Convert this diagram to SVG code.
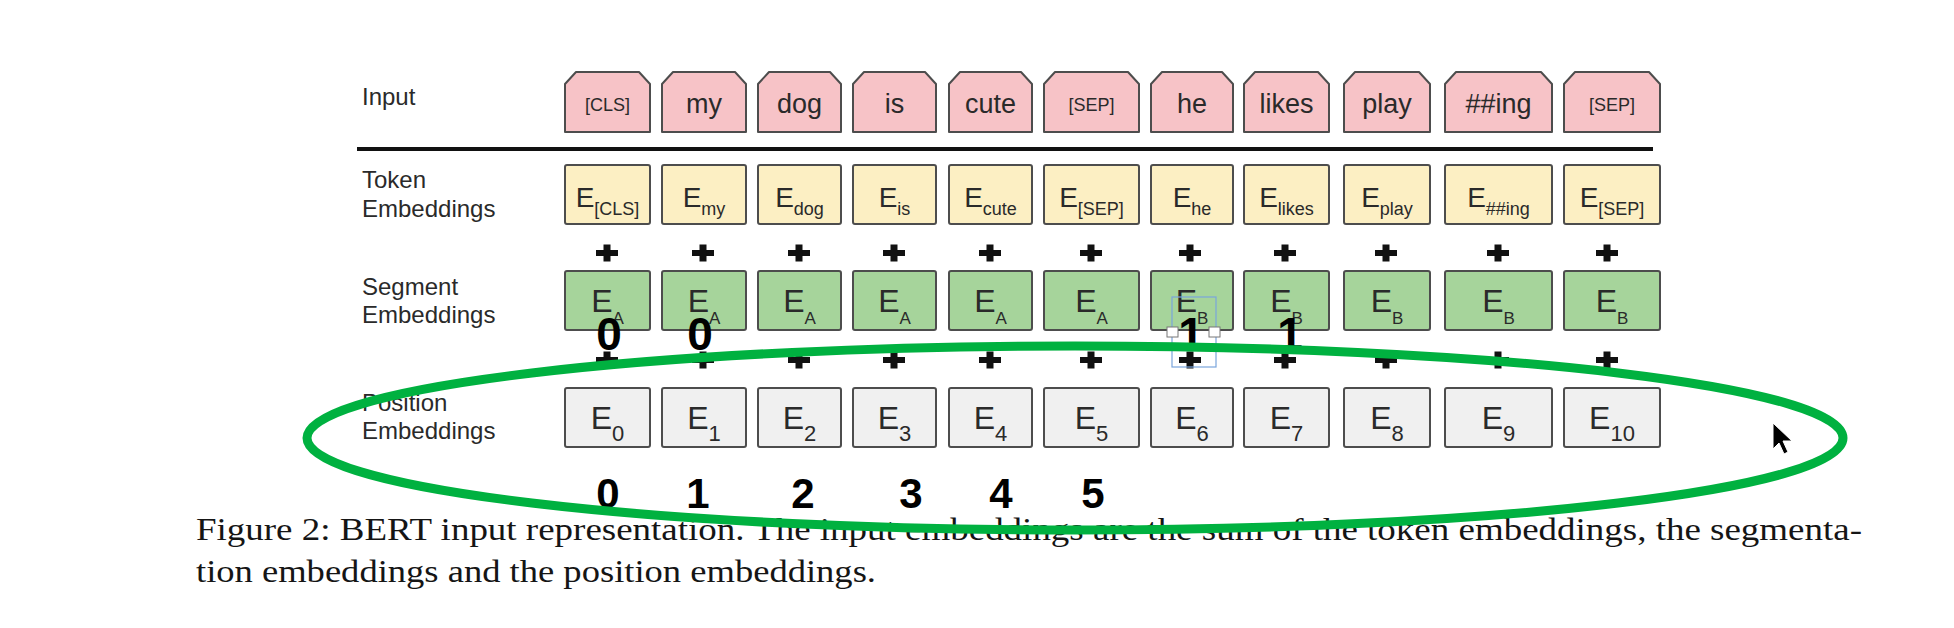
<svg xmlns="http://www.w3.org/2000/svg" xmlns:xlink="http://www.w3.org/1999/xlink" width="1954" height="628" viewBox="0 0 1954 628">
<style>
.lbl{font-family:"Liberation Sans",Arial,sans-serif;font-size:24px;fill:#2a2a2a}
.in{fill:#f7c3c7;stroke:#4d4d4d;stroke-width:2;stroke-linejoin:round}
.tok{fill:#fcefc3;stroke:#4d4d4d;stroke-width:2}
.seg{fill:#a6d49b;stroke:#4d4d4d;stroke-width:2}
.pos{fill:#f0f0f0;stroke:#4d4d4d;stroke-width:2}
.word{font-family:"Liberation Sans",Arial,sans-serif;font-size:27px;fill:#2a2a2a;text-anchor:middle}
.sp{font-size:18px}
.e1{font-family:"Liberation Sans",Arial,sans-serif;font-size:28px;fill:#2a2a2a;text-anchor:middle}
.e2{font-family:"Liberation Sans",Arial,sans-serif;font-size:32px;fill:#2a2a2a;text-anchor:middle}
.s1{font-size:18px}
.s2{font-size:17px}
.s3{font-size:22px}
.num{font-family:"Liberation Sans",Arial,sans-serif;font-weight:bold;fill:#000;text-anchor:middle}
.cap{font-family:"Liberation Serif","Times New Roman",serif;font-size:31px;fill:#151515}
</style>
<defs>
<g id="plus" fill="#111"><rect x="-11" y="-3" width="22" height="6"/><rect x="-3.5" y="-8.5" width="7" height="17"/></g>
</defs>
<rect width="1954" height="628" fill="#fff"/>

<g id="labels">
<text class="lbl" x="362" y="105">Input</text>
<text class="lbl" x="362" y="188">Token</text>
<text class="lbl" x="362" y="217">Embeddings</text>
<text class="lbl" x="362" y="295">Segment</text>
<text class="lbl" x="362" y="323">Embeddings</text>
<text class="lbl" x="362" y="411">Position</text>
<text class="lbl" x="362" y="439">Embeddings</text>
</g>

<line x1="357" y1="149" x2="1653" y2="149" stroke="#111" stroke-width="4"/>

<g id="input-row">
<g id="in0"><path class="in" d="M565,132V84L576,72H639L650,84V132Z"/><text class="word sp" x="607.5" y="111">[CLS]</text></g>
<g id="in1"><path class="in" d="M662,132V84L673,72H735L746,84V132Z"/><text class="word" x="704" y="113">my</text></g>
<g id="in2"><path class="in" d="M758,132V84L769,72H830L841,84V132Z"/><text class="word" x="799.5" y="113">dog</text></g>
<g id="in3"><path class="in" d="M853,132V84L864,72H925L936,84V132Z"/><text class="word" x="894.5" y="113">is</text></g>
<g id="in4"><path class="in" d="M949,132V84L960,72H1021L1032,84V132Z"/><text class="word" x="990.5" y="113">cute</text></g>
<g id="in5"><path class="in" d="M1044,132V84L1055,72H1128L1139,84V132Z"/><text class="word sp" x="1091.5" y="111">[SEP]</text></g>
<g id="in6"><path class="in" d="M1151,132V84L1162,72H1222L1233,84V132Z"/><text class="word" x="1192" y="113">he</text></g>
<g id="in7"><path class="in" d="M1244,132V84L1255,72H1318L1329,84V132Z"/><text class="word" x="1286.5" y="113">likes</text></g>
<g id="in8"><path class="in" d="M1344,132V84L1355,72H1419L1430,84V132Z"/><text class="word" x="1387" y="113">play</text></g>
<g id="in9"><path class="in" d="M1445,132V84L1456,72H1541L1552,84V132Z"/><text class="word" x="1498.5" y="113">##ing</text></g>
<g id="in10"><path class="in" d="M1564,132V84L1575,72H1649L1660,84V132Z"/><text class="word sp" x="1612" y="111">[SEP]</text></g>
</g>

<g id="token-row">
<g id="tok0"><rect class="tok" x="565" y="165" width="85" height="59" rx="2"/><text class="e1" x="607.5" y="207">E<tspan class="s1" dy="8">[CLS]</tspan></text></g>
<g id="tok1"><rect class="tok" x="662" y="165" width="84" height="59" rx="2"/><text class="e1" x="704" y="207">E<tspan class="s1" dy="8">my</tspan></text></g>
<g id="tok2"><rect class="tok" x="758" y="165" width="83" height="59" rx="2"/><text class="e1" x="799.5" y="207">E<tspan class="s1" dy="8">dog</tspan></text></g>
<g id="tok3"><rect class="tok" x="853" y="165" width="83" height="59" rx="2"/><text class="e1" x="894.5" y="207">E<tspan class="s1" dy="8">is</tspan></text></g>
<g id="tok4"><rect class="tok" x="949" y="165" width="83" height="59" rx="2"/><text class="e1" x="990.5" y="207">E<tspan class="s1" dy="8">cute</tspan></text></g>
<g id="tok5"><rect class="tok" x="1044" y="165" width="95" height="59" rx="2"/><text class="e1" x="1091.5" y="207">E<tspan class="s1" dy="8">[SEP]</tspan></text></g>
<g id="tok6"><rect class="tok" x="1151" y="165" width="82" height="59" rx="2"/><text class="e1" x="1192" y="207">E<tspan class="s1" dy="8">he</tspan></text></g>
<g id="tok7"><rect class="tok" x="1244" y="165" width="85" height="59" rx="2"/><text class="e1" x="1286.5" y="207">E<tspan class="s1" dy="8">likes</tspan></text></g>
<g id="tok8"><rect class="tok" x="1344" y="165" width="86" height="59" rx="2"/><text class="e1" x="1387" y="207">E<tspan class="s1" dy="8">play</tspan></text></g>
<g id="tok9"><rect class="tok" x="1445" y="165" width="107" height="59" rx="2"/><text class="e1" x="1498.5" y="207">E<tspan class="s1" dy="8">##ing</tspan></text></g>
<g id="tok10"><rect class="tok" x="1564" y="165" width="96" height="59" rx="2"/><text class="e1" x="1612" y="207">E<tspan class="s1" dy="8">[SEP]</tspan></text></g>
</g>

<g id="segment-row">
<g id="seg0"><rect class="seg" x="565" y="271" width="85" height="59" rx="2"/><text class="e2" x="607.5" y="312">E<tspan class="s2" dy="12">A</tspan></text></g>
<g id="seg1"><rect class="seg" x="662" y="271" width="84" height="59" rx="2"/><text class="e2" x="704" y="312">E<tspan class="s2" dy="12">A</tspan></text></g>
<g id="seg2"><rect class="seg" x="758" y="271" width="83" height="59" rx="2"/><text class="e2" x="799.5" y="312">E<tspan class="s2" dy="12">A</tspan></text></g>
<g id="seg3"><rect class="seg" x="853" y="271" width="83" height="59" rx="2"/><text class="e2" x="894.5" y="312">E<tspan class="s2" dy="12">A</tspan></text></g>
<g id="seg4"><rect class="seg" x="949" y="271" width="83" height="59" rx="2"/><text class="e2" x="990.5" y="312">E<tspan class="s2" dy="12">A</tspan></text></g>
<g id="seg5"><rect class="seg" x="1044" y="271" width="95" height="59" rx="2"/><text class="e2" x="1091.5" y="312">E<tspan class="s2" dy="12">A</tspan></text></g>
<g id="seg6"><rect class="seg" x="1151" y="271" width="82" height="59" rx="2"/><text class="e2" x="1192" y="312">E<tspan class="s2" dy="12">B</tspan></text></g>
<g id="seg7"><rect class="seg" x="1244" y="271" width="85" height="59" rx="2"/><text class="e2" x="1286.5" y="312">E<tspan class="s2" dy="12">B</tspan></text></g>
<g id="seg8"><rect class="seg" x="1344" y="271" width="86" height="59" rx="2"/><text class="e2" x="1387" y="312">E<tspan class="s2" dy="12">B</tspan></text></g>
<g id="seg9"><rect class="seg" x="1445" y="271" width="107" height="59" rx="2"/><text class="e2" x="1498.5" y="312">E<tspan class="s2" dy="12">B</tspan></text></g>
<g id="seg10"><rect class="seg" x="1564" y="271" width="96" height="59" rx="2"/><text class="e2" x="1612" y="312">E<tspan class="s2" dy="12">B</tspan></text></g>
</g>

<g id="position-row">
<g id="pos0"><rect class="pos" x="565" y="388" width="85" height="59" rx="2"/><text class="e2" x="607.5" y="429">E<tspan class="s3" dy="12">0</tspan></text></g>
<g id="pos1"><rect class="pos" x="662" y="388" width="84" height="59" rx="2"/><text class="e2" x="704" y="429">E<tspan class="s3" dy="12">1</tspan></text></g>
<g id="pos2"><rect class="pos" x="758" y="388" width="83" height="59" rx="2"/><text class="e2" x="799.5" y="429">E<tspan class="s3" dy="12">2</tspan></text></g>
<g id="pos3"><rect class="pos" x="853" y="388" width="83" height="59" rx="2"/><text class="e2" x="894.5" y="429">E<tspan class="s3" dy="12">3</tspan></text></g>
<g id="pos4"><rect class="pos" x="949" y="388" width="83" height="59" rx="2"/><text class="e2" x="990.5" y="429">E<tspan class="s3" dy="12">4</tspan></text></g>
<g id="pos5"><rect class="pos" x="1044" y="388" width="95" height="59" rx="2"/><text class="e2" x="1091.5" y="429">E<tspan class="s3" dy="12">5</tspan></text></g>
<g id="pos6"><rect class="pos" x="1151" y="388" width="82" height="59" rx="2"/><text class="e2" x="1192" y="429">E<tspan class="s3" dy="12">6</tspan></text></g>
<g id="pos7"><rect class="pos" x="1244" y="388" width="85" height="59" rx="2"/><text class="e2" x="1286.5" y="429">E<tspan class="s3" dy="12">7</tspan></text></g>
<g id="pos8"><rect class="pos" x="1344" y="388" width="86" height="59" rx="2"/><text class="e2" x="1387" y="429">E<tspan class="s3" dy="12">8</tspan></text></g>
<g id="pos9"><rect class="pos" x="1445" y="388" width="107" height="59" rx="2"/><text class="e2" x="1498.5" y="429">E<tspan class="s3" dy="12">9</tspan></text></g>
<g id="pos10"><rect class="pos" x="1564" y="388" width="96" height="59" rx="2"/><text class="e2" x="1612" y="429">E<tspan class="s3" dy="12">10</tspan></text></g>
</g>

<g id="connectors">
<use xlink:href="#plus" x="607" y="253"/><use xlink:href="#plus" x="703" y="253"/><use xlink:href="#plus" x="799" y="253"/><use xlink:href="#plus" x="894" y="253"/><use xlink:href="#plus" x="990" y="253"/><use xlink:href="#plus" x="1091" y="253"/><use xlink:href="#plus" x="1190" y="253"/><use xlink:href="#plus" x="1285" y="253"/><use xlink:href="#plus" x="1386" y="253"/><use xlink:href="#plus" x="1498" y="253"/><use xlink:href="#plus" x="1607" y="253"/>
<use xlink:href="#plus" x="607" y="360"/><use xlink:href="#plus" x="703" y="360"/><use xlink:href="#plus" x="799" y="360"/><use xlink:href="#plus" x="894" y="360"/><use xlink:href="#plus" x="990" y="360"/><use xlink:href="#plus" x="1091" y="360"/><use xlink:href="#plus" x="1190" y="360"/><use xlink:href="#plus" x="1285" y="360"/><use xlink:href="#plus" x="1386" y="360"/><use xlink:href="#plus" x="1498" y="360"/><use xlink:href="#plus" x="1607" y="360"/>
</g>

<g id="annotations">
<text class="num" font-size="46" x="609" y="350">0</text>
<text class="num" font-size="46" x="700" y="350">0</text>
<text class="num" font-size="46" x="1191" y="350">1</text>
<text class="num" font-size="46" x="1290" y="350">1</text>
<text class="num" font-size="42" x="608" y="508">0</text>
<text class="num" font-size="42" x="698" y="508">1</text>
<text class="num" font-size="42" x="803" y="508">2</text>
<text class="num" font-size="42" x="911" y="508">3</text>
<text class="num" font-size="42" x="1001" y="508">4</text>
<text class="num" font-size="42" x="1093" y="508">5</text>
</g>

<g id="caption">
<text class="cap" x="196" y="540" textLength="1666" lengthAdjust="spacingAndGlyphs">Figure 2: BERT input representation.  The input embeddings are the sum of the token embeddings, the segmenta-</text>
<text class="cap" x="196" y="582" textLength="680" lengthAdjust="spacingAndGlyphs">tion embeddings and the position embeddings.</text>
</g>

<g id="selection">
<rect x="1172" y="297" width="44" height="70" fill="none" stroke="#7aa5dc" stroke-width="1.2"/>
<rect x="1167" y="327" width="11" height="10" fill="#fff" stroke="#777" stroke-width="1"/>
<rect x="1209" y="327" width="11" height="10" fill="#fff" stroke="#777" stroke-width="1"/>
</g>

<ellipse id="highlight" cx="1075" cy="438" rx="768" ry="92" fill="none" stroke="#00b140" stroke-width="9"/>

<path id="cursor" d="M1773,423V449L1779,443L1784,454L1788,452L1783,441L1792,441Z" fill="#000" stroke="#fff" stroke-width="1"/>
</svg>
